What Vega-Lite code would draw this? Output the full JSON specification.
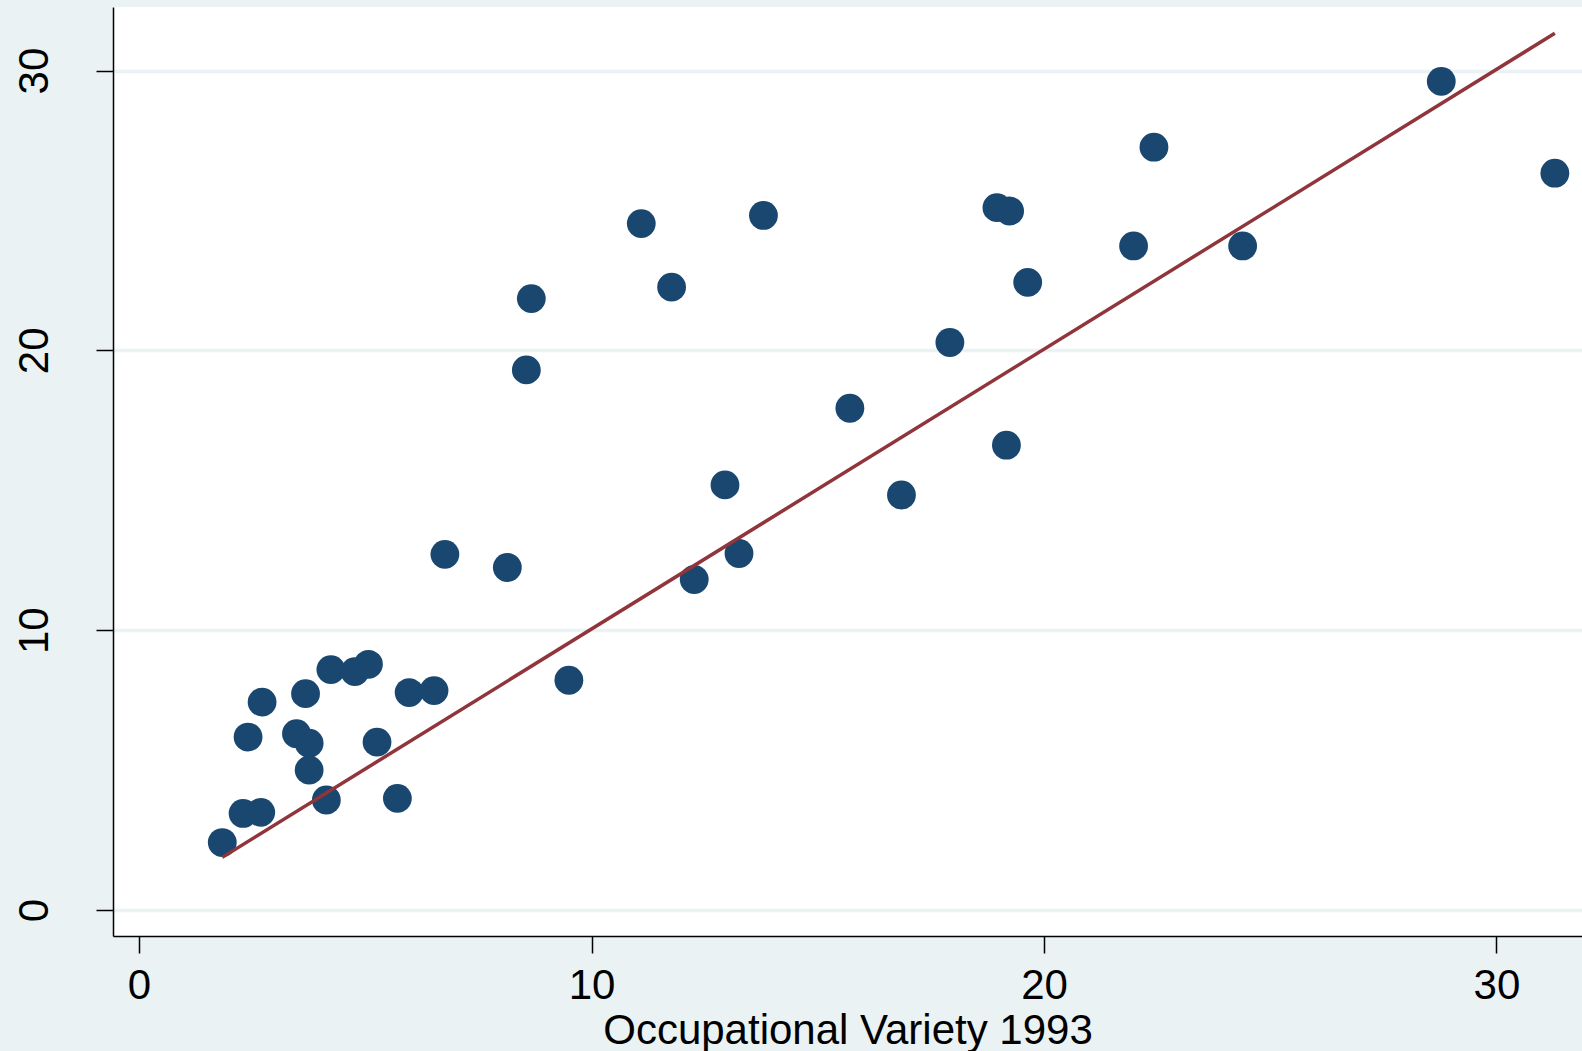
{
  "$schema": "https://vega.github.io/schema/vega-lite/v6.json",
  "width": 1469,
  "height": 929,
  "autosize": {"type": "none"},
  "padding": {"left": 113, "top": 7, "right": 0, "bottom": 115},
  "background": "#EAF2F3",
  "config": {
    "view": {"fill": "white", "stroke": null},
    "font": "Liberation Sans"
  },
  "encoding": {
    "x": {
      "field": "x",
      "type": "quantitative",
      "scale": {"domain": [-0.575, 31.89], "nice": false, "zero": false},
      "axis": {
        "values": [0, 10, 20, 30],
        "title": "Occupational Variety 1993",
        "grid": false,
        "domainColor": "black",
        "domainWidth": 1.5,
        "tickColor": "black",
        "tickWidth": 1.5,
        "tickSize": 17,
        "labelFontSize": 42,
        "labelPadding": 12,
        "labelColor": "black",
        "labelFlush": false,
        "labelOverlap": false,
        "titleFontSize": 42,
        "titleFontWeight": "normal",
        "titleColor": "black",
        "titleBaseline": "alphabetic",
        "titleY": 107
      }
    },
    "y": {
      "field": "y",
      "type": "quantitative",
      "scale": {"domain": [-0.93, 32.27], "nice": false, "zero": false},
      "axis": {
        "values": [0, 10, 20, 30],
        "title": null,
        "grid": true,
        "gridColor": "#EAF2F3",
        "gridWidth": 3.5,
        "domainColor": "black",
        "domainWidth": 1.5,
        "tickColor": "black",
        "tickWidth": 1.5,
        "tickSize": 17,
        "labelFontSize": 42,
        "labelAngle": 270,
        "labelAlign": "center",
        "labelBaseline": "alphabetic",
        "labelPadding": 49,
        "labelColor": "black",
        "labelFlush": false,
        "labelOverlap": false
      }
    }
  },
  "layer": [
    {
      "data": {
        "values": [
          {"x": 1.84, "y": 2.41},
          {"x": 2.30, "y": 3.45},
          {"x": 2.69, "y": 3.49},
          {"x": 2.41, "y": 6.18},
          {"x": 2.72, "y": 7.43},
          {"x": 3.48, "y": 6.30},
          {"x": 3.76, "y": 5.96},
          {"x": 3.76, "y": 5.00},
          {"x": 3.68, "y": 7.73},
          {"x": 4.14, "y": 3.93},
          {"x": 4.24, "y": 8.59},
          {"x": 4.77, "y": 8.52},
          {"x": 5.07, "y": 8.78},
          {"x": 5.26, "y": 6.00},
          {"x": 5.71, "y": 3.99},
          {"x": 5.97, "y": 7.77},
          {"x": 6.52, "y": 7.84},
          {"x": 6.76, "y": 12.71},
          {"x": 8.14, "y": 12.24},
          {"x": 9.50, "y": 8.21},
          {"x": 8.67, "y": 21.85},
          {"x": 8.56, "y": 19.30},
          {"x": 11.10, "y": 24.53},
          {"x": 11.77, "y": 22.26},
          {"x": 13.80, "y": 24.82},
          {"x": 12.95, "y": 15.19},
          {"x": 12.27, "y": 11.81},
          {"x": 13.26, "y": 12.74},
          {"x": 16.85, "y": 14.83},
          {"x": 15.71, "y": 17.93},
          {"x": 17.92, "y": 20.28},
          {"x": 18.96, "y": 25.10},
          {"x": 19.24, "y": 24.98},
          {"x": 19.64, "y": 22.43},
          {"x": 19.17, "y": 16.61},
          {"x": 22.43, "y": 27.26},
          {"x": 21.98, "y": 23.73},
          {"x": 24.39, "y": 23.73},
          {"x": 28.78, "y": 29.61},
          {"x": 31.29, "y": 26.33}
        ]
      },
      "mark": {"type": "circle", "size": 830, "color": "#1A476F", "opacity": 1}
    },
    {
      "data": {
        "values": [
          {"x": 1.84, "y": 1.88},
          {"x": 31.29, "y": 31.33}
        ]
      },
      "mark": {"type": "line", "color": "#90353B", "strokeWidth": 3.5}
    }
  ]
}
